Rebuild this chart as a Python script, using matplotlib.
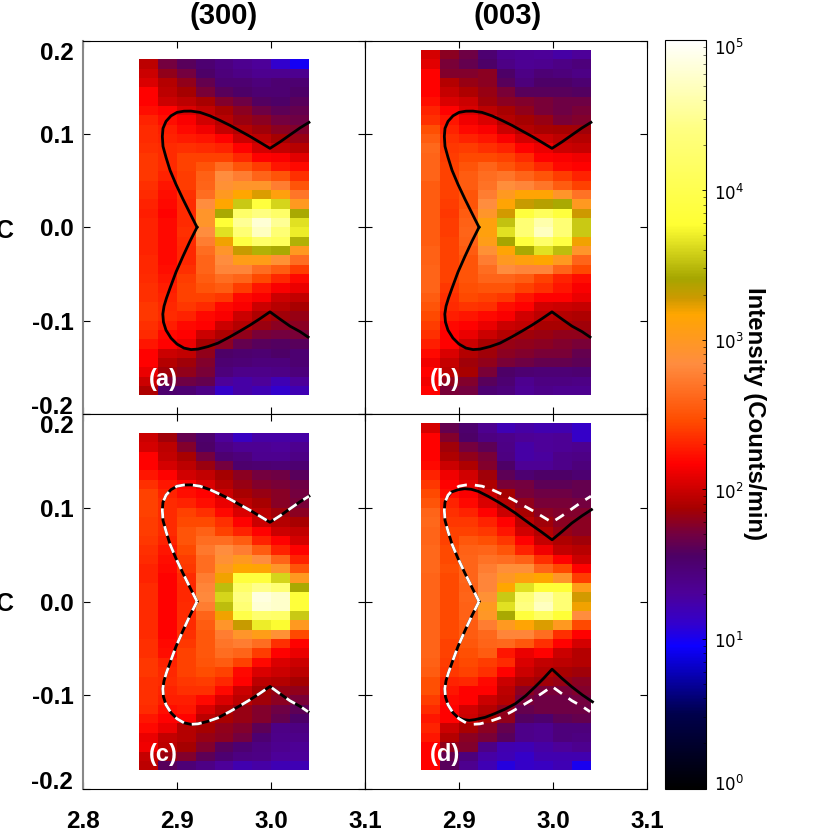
import matplotlib
matplotlib.use("Agg")
import matplotlib.pyplot as plt
import numpy as np
from matplotlib.colors import LinearSegmentedColormap, LogNorm
from matplotlib.transforms import ScaledTranslation

plt.rcParams['font.family'] = ['Liberation Sans', 'DejaVu Sans']

W = 830.0

# log10 of intensity, one row per 0.01 in y, from the top row down
panel_a = [
    [1.95, 1.70, 1.60, 1.50, 1.42, 1.35, 1.30, 1.10, 0.98],
    [2.00, 1.80, 1.70, 1.55, 1.45, 1.40, 1.35, 1.35, 1.35],
    [2.05, 1.92, 1.80, 1.65, 1.50, 1.50, 1.45, 1.50, 1.50],
    [2.17, 1.95, 1.87, 1.72, 1.60, 1.55, 1.50, 1.50, 1.55],
    [2.17, 2.00, 1.95, 1.88, 1.75, 1.68, 1.58, 1.55, 1.60],
    [2.22, 2.17, 2.05, 1.97, 1.88, 1.78, 1.68, 1.62, 1.65],
    [2.30, 2.22, 2.15, 2.02, 1.93, 1.83, 1.78, 1.70, 1.68],
    [2.33, 2.28, 2.20, 2.12, 1.98, 1.92, 1.85, 1.78, 1.75],
    [2.33, 2.30, 2.27, 2.24, 2.17, 2.00, 1.95, 1.87, 1.82],
    [2.35, 2.33, 2.35, 2.33, 2.30, 2.17, 2.03, 1.97, 1.93],
    [2.38, 2.33, 2.42, 2.42, 2.42, 2.32, 2.17, 2.15, 2.08],
    [2.38, 2.33, 2.42, 2.50, 2.65, 2.50, 2.40, 2.25, 2.20],
    [2.38, 2.30, 2.40, 2.58, 2.85, 2.75, 2.60, 2.50, 2.35],
    [2.35, 2.25, 2.40, 2.60, 2.90, 2.95, 2.95, 2.75, 2.50],
    [2.33, 2.22, 2.35, 2.65, 3.00, 3.17, 3.25, 3.10, 2.70],
    [2.30, 2.20, 2.33, 2.85, 3.17, 3.55, 3.85, 3.60, 3.00],
    [2.28, 2.17, 2.33, 2.95, 3.42, 4.20, 4.40, 4.20, 3.42],
    [2.30, 2.20, 2.33, 2.95, 3.80, 4.50, 4.80, 4.50, 3.65],
    [2.30, 2.20, 2.35, 2.85, 3.65, 4.30, 4.70, 4.30, 3.70],
    [2.30, 2.20, 2.33, 2.75, 3.20, 3.90, 4.20, 4.10, 3.45],
    [2.30, 2.20, 2.32, 2.65, 2.95, 3.30, 3.45, 3.42, 3.00],
    [2.32, 2.20, 2.32, 2.60, 2.85, 3.05, 3.05, 2.90, 2.65],
    [2.32, 2.22, 2.35, 2.60, 2.80, 2.80, 2.65, 2.55, 2.40],
    [2.33, 2.25, 2.40, 2.55, 2.65, 2.60, 2.45, 2.32, 2.20],
    [2.35, 2.28, 2.42, 2.50, 2.55, 2.40, 2.25, 2.15, 2.10],
    [2.35, 2.30, 2.42, 2.42, 2.38, 2.20, 2.15, 2.00, 1.97],
    [2.38, 2.32, 2.38, 2.33, 2.20, 2.15, 2.00, 1.93, 1.88],
    [2.38, 2.33, 2.30, 2.20, 2.15, 2.00, 1.90, 1.85, 1.82],
    [2.35, 2.28, 2.20, 2.17, 2.00, 1.92, 1.83, 1.78, 1.78],
    [2.33, 2.20, 2.17, 2.00, 1.90, 1.80, 1.72, 1.70, 1.72],
    [2.25, 2.17, 2.10, 1.87, 1.78, 1.65, 1.60, 1.58, 1.60],
    [2.17, 2.00, 1.97, 1.80, 1.55, 1.52, 1.50, 1.55, 1.50],
    [2.17, 1.92, 1.85, 1.75, 1.50, 1.48, 1.45, 1.45, 1.50],
    [2.10, 1.85, 1.80, 1.72, 1.45, 1.38, 1.38, 1.40, 1.45],
    [2.00, 1.72, 1.68, 1.65, 1.30, 1.25, 1.30, 1.20, 1.30],
    [1.90, 1.52, 1.50, 1.40, 1.12, 1.25, 1.20, 1.10, 1.20],
]

panel_b = [
    [2.03, 1.78, 1.68, 1.50, 1.35, 1.32, 1.30, 1.25, 1.30],
    [2.08, 1.72, 1.65, 1.55, 1.40, 1.33, 1.35, 1.40, 1.45],
    [2.17, 1.75, 1.75, 1.78, 1.55, 1.40, 1.48, 1.45, 1.40],
    [2.17, 1.92, 1.82, 1.78, 1.60, 1.45, 1.55, 1.55, 1.50],
    [2.17, 1.98, 1.90, 1.82, 1.72, 1.60, 1.60, 1.60, 1.58],
    [2.22, 2.05, 2.00, 1.85, 1.78, 1.75, 1.72, 1.68, 1.68],
    [2.30, 2.17, 2.05, 1.95, 1.88, 1.80, 1.72, 1.68, 1.72],
    [2.35, 2.25, 2.12, 2.05, 1.92, 1.87, 1.82, 1.72, 1.75],
    [2.48, 2.30, 2.20, 2.15, 2.00, 1.92, 1.88, 1.87, 1.85],
    [2.55, 2.35, 2.30, 2.25, 2.15, 2.03, 2.00, 1.95, 1.92],
    [2.62, 2.38, 2.40, 2.35, 2.30, 2.17, 2.10, 2.00, 1.98],
    [2.60, 2.40, 2.45, 2.45, 2.42, 2.33, 2.17, 2.15, 2.12],
    [2.60, 2.42, 2.50, 2.60, 2.50, 2.42, 2.32, 2.20, 2.17],
    [2.60, 2.42, 2.55, 2.65, 2.70, 2.60, 2.50, 2.40, 2.30],
    [2.55, 2.42, 2.55, 2.68, 2.87, 2.80, 2.70, 2.55, 2.42],
    [2.55, 2.42, 2.50, 2.75, 3.00, 3.15, 3.15, 2.95, 2.68],
    [2.55, 2.40, 2.50, 2.85, 3.15, 3.30, 3.35, 3.42, 3.00],
    [2.55, 2.38, 2.55, 2.95, 3.27, 3.85, 4.10, 3.85, 3.28],
    [2.55, 2.40, 2.58, 3.10, 3.52, 4.30, 4.60, 4.30, 3.55],
    [2.55, 2.40, 2.60, 3.10, 3.65, 4.30, 4.70, 4.30, 3.55],
    [2.55, 2.42, 2.58, 3.05, 3.40, 3.85, 4.20, 3.90, 3.20],
    [2.58, 2.42, 2.55, 2.90, 3.15, 3.42, 3.65, 3.50, 2.95],
    [2.58, 2.42, 2.50, 2.75, 3.00, 3.10, 3.17, 3.00, 2.60],
    [2.60, 2.42, 2.50, 2.65, 2.85, 2.80, 2.80, 2.60, 2.45],
    [2.60, 2.42, 2.50, 2.60, 2.60, 2.55, 2.42, 2.30, 2.22],
    [2.60, 2.38, 2.48, 2.50, 2.50, 2.42, 2.35, 2.25, 2.15],
    [2.55, 2.35, 2.45, 2.42, 2.38, 2.25, 2.17, 2.17, 2.10],
    [2.50, 2.33, 2.37, 2.35, 2.22, 2.17, 2.02, 2.00, 1.98],
    [2.45, 2.28, 2.25, 2.20, 2.15, 2.02, 1.95, 1.92, 1.90],
    [2.40, 2.20, 2.17, 2.10, 2.00, 1.97, 1.88, 1.88, 1.85],
    [2.35, 2.17, 2.10, 2.00, 1.92, 1.85, 1.83, 1.80, 1.80],
    [2.28, 2.17, 2.00, 1.88, 1.82, 1.80, 1.78, 1.75, 1.72],
    [2.20, 2.05, 1.92, 1.85, 1.78, 1.75, 1.72, 1.72, 1.65],
    [2.12, 1.98, 1.85, 1.80, 1.72, 1.68, 1.65, 1.65, 1.62],
    [2.17, 1.95, 1.88, 1.72, 1.55, 1.50, 1.48, 1.48, 1.50],
    [2.12, 1.80, 1.75, 1.60, 1.50, 1.35, 1.42, 1.42, 1.40],
    [2.17, 1.72, 1.70, 1.50, 1.45, 1.32, 1.38, 1.35, 1.35],
]

panel_c = [
    [2.00, 1.85, 1.65, 1.52, 1.30, 1.15, 1.25, 1.25, 1.25],
    [2.03, 1.95, 1.75, 1.55, 1.40, 1.33, 1.33, 1.30, 1.35],
    [2.17, 1.97, 1.88, 1.70, 1.50, 1.45, 1.35, 1.35, 1.40],
    [2.17, 2.03, 1.95, 1.83, 1.70, 1.52, 1.50, 1.48, 1.50],
    [2.25, 2.17, 2.02, 1.97, 1.87, 1.78, 1.70, 1.68, 1.60],
    [2.35, 2.25, 2.17, 2.05, 1.92, 1.82, 1.75, 1.72, 1.68],
    [2.42, 2.30, 2.22, 2.17, 2.00, 1.88, 1.82, 1.77, 1.70],
    [2.42, 2.33, 2.30, 2.22, 2.10, 1.95, 1.88, 1.77, 1.72],
    [2.42, 2.33, 2.42, 2.35, 2.20, 2.05, 1.95, 1.85, 1.78],
    [2.40, 2.33, 2.45, 2.45, 2.35, 2.17, 2.00, 1.92, 1.88],
    [2.40, 2.33, 2.50, 2.58, 2.42, 2.30, 2.17, 2.00, 1.97],
    [2.38, 2.30, 2.50, 2.65, 2.65, 2.55, 2.30, 2.17, 2.03],
    [2.35, 2.25, 2.45, 2.72, 2.85, 2.75, 2.55, 2.30, 2.17],
    [2.33, 2.22, 2.40, 2.65, 2.90, 3.00, 2.85, 2.60, 2.30],
    [2.30, 2.20, 2.38, 2.65, 3.00, 3.17, 3.15, 2.95, 2.50],
    [2.30, 2.17, 2.33, 2.75, 3.20, 3.85, 3.85, 3.60, 3.00],
    [2.33, 2.17, 2.32, 2.80, 3.50, 4.20, 4.45, 4.30, 3.42],
    [2.33, 2.17, 2.32, 2.82, 3.60, 4.40, 4.85, 4.75, 3.82],
    [2.33, 2.17, 2.33, 2.75, 3.50, 4.30, 4.80, 4.75, 3.82],
    [2.33, 2.17, 2.33, 2.60, 3.20, 3.95, 4.25, 4.20, 3.55],
    [2.33, 2.17, 2.33, 2.55, 2.95, 3.30, 3.70, 3.75, 3.00],
    [2.33, 2.17, 2.35, 2.52, 2.75, 2.95, 3.05, 2.90, 2.45],
    [2.35, 2.20, 2.38, 2.52, 2.70, 2.75, 2.65, 2.35, 2.17],
    [2.35, 2.22, 2.42, 2.52, 2.65, 2.60, 2.40, 2.17, 2.10],
    [2.38, 2.30, 2.42, 2.50, 2.55, 2.42, 2.20, 2.05, 2.00],
    [2.38, 2.32, 2.42, 2.47, 2.42, 2.20, 2.05, 2.00, 1.95],
    [2.35, 2.33, 2.38, 2.40, 2.32, 2.17, 1.95, 1.92, 1.87],
    [2.35, 2.30, 2.35, 2.35, 2.20, 2.00, 1.87, 1.82, 1.80],
    [2.35, 2.28, 2.28, 2.20, 2.05, 1.95, 1.85, 1.78, 1.72],
    [2.33, 2.22, 2.25, 2.05, 1.92, 1.82, 1.75, 1.68, 1.62],
    [2.25, 2.17, 2.17, 1.95, 1.88, 1.82, 1.75, 1.65, 1.55],
    [2.20, 2.10, 1.92, 1.87, 1.80, 1.75, 1.62, 1.40, 1.42],
    [2.10, 1.97, 1.92, 1.82, 1.78, 1.70, 1.50, 1.38, 1.38],
    [2.12, 1.95, 1.87, 1.75, 1.60, 1.50, 1.42, 1.35, 1.32],
    [1.98, 1.83, 1.75, 1.62, 1.50, 1.42, 1.40, 1.30, 1.30],
    [1.95, 1.60, 1.48, 1.40, 1.30, 1.22, 1.25, 1.20, 1.20],
]

panel_d = [
    [2.03, 1.65, 1.52, 1.35, 1.20, 1.25, 1.22, 1.22, 1.12],
    [2.17, 1.75, 1.55, 1.42, 1.38, 1.32, 1.30, 1.32, 1.12],
    [2.17, 1.85, 1.70, 1.62, 1.40, 1.25, 1.30, 1.32, 1.35],
    [2.17, 1.90, 1.80, 1.72, 1.42, 1.25, 1.28, 1.38, 1.40],
    [2.20, 2.00, 1.90, 1.75, 1.55, 1.32, 1.32, 1.38, 1.45],
    [2.30, 2.12, 2.02, 1.85, 1.62, 1.50, 1.55, 1.55, 1.50],
    [2.38, 2.17, 2.08, 1.90, 1.72, 1.70, 1.62, 1.62, 1.65],
    [2.45, 2.22, 2.15, 2.00, 1.87, 1.72, 1.68, 1.68, 1.65],
    [2.50, 2.30, 2.20, 2.05, 1.92, 1.80, 1.72, 1.72, 1.70],
    [2.60, 2.35, 2.30, 2.17, 2.00, 1.88, 1.78, 1.75, 1.75],
    [2.62, 2.38, 2.38, 2.30, 2.17, 1.95, 1.85, 1.78, 1.78],
    [2.60, 2.42, 2.42, 2.38, 2.25, 2.02, 1.92, 1.82, 1.78],
    [2.60, 2.42, 2.52, 2.48, 2.38, 2.17, 1.98, 1.90, 1.85],
    [2.62, 2.45, 2.58, 2.60, 2.50, 2.30, 2.12, 1.97, 1.93],
    [2.62, 2.45, 2.60, 2.68, 2.65, 2.58, 2.35, 2.17, 2.00],
    [2.62, 2.48, 2.60, 2.75, 2.88, 2.88, 2.60, 2.45, 2.17],
    [2.60, 2.45, 2.60, 2.80, 2.98, 3.10, 3.17, 2.95, 2.40],
    [2.60, 2.45, 2.58, 2.80, 3.17, 3.65, 3.80, 3.80, 3.05],
    [2.60, 2.45, 2.60, 2.90, 3.55, 4.30, 4.60, 4.30, 3.27],
    [2.60, 2.45, 2.58, 3.00, 3.65, 4.40, 4.70, 4.30, 3.20],
    [2.60, 2.45, 2.58, 2.97, 3.42, 3.85, 4.15, 3.80, 2.85],
    [2.60, 2.45, 2.55, 2.75, 3.00, 3.15, 3.25, 3.00, 2.45],
    [2.60, 2.45, 2.55, 2.62, 2.80, 2.80, 2.65, 2.35, 2.17],
    [2.60, 2.42, 2.52, 2.60, 2.62, 2.52, 2.35, 2.17, 2.03],
    [2.60, 2.42, 2.48, 2.55, 2.25, 2.10, 2.17, 2.00, 1.92],
    [2.58, 2.40, 2.45, 2.40, 2.33, 2.05, 1.97, 1.95, 1.92],
    [2.55, 2.38, 2.42, 2.35, 2.17, 2.00, 1.92, 1.88, 1.85],
    [2.48, 2.30, 2.32, 2.20, 2.00, 1.90, 1.85, 1.82, 1.78],
    [2.48, 2.25, 2.17, 2.17, 1.95, 1.78, 1.72, 1.72, 1.75],
    [2.40, 2.20, 2.17, 2.00, 1.92, 1.72, 1.68, 1.68, 1.70],
    [2.33, 2.17, 2.02, 1.92, 1.80, 1.65, 1.68, 1.68, 1.68],
    [2.25, 2.17, 2.00, 1.88, 1.80, 1.58, 1.52, 1.62, 1.65],
    [2.30, 2.00, 1.88, 1.78, 1.65, 1.38, 1.35, 1.45, 1.45],
    [2.25, 1.92, 1.78, 1.72, 1.60, 1.38, 1.35, 1.45, 1.42],
    [2.17, 1.80, 1.75, 1.40, 1.22, 1.20, 1.25, 1.30, 1.35],
    [2.17, 1.65, 1.45, 1.25, 1.20, 1.12, 1.22, 1.22, 1.22],
    [2.17, 1.60, 1.35, 1.20, 1.05, 1.12, 1.15, 1.20, 1.00],
]

x_edges = [2.86, 2.88, 2.90, 2.92, 2.94, 2.96, 2.98, 3.00, 3.02, 3.04]
y_top_short = 0.18   # a and c
y_top_tall = 0.19    # b and d
y_bottom = -0.18

# the outer butterfly contour
outer_x = [2.9213, 2.9138, 2.9064, 2.8989, 2.8926, 2.8883, 2.8851, 2.8844, 2.8851, 2.8883, 2.8936, 2.9000, 2.9074,
           2.9149, 2.9245, 2.9351, 2.9457, 2.9564, 2.9670, 2.9777, 2.9883, 2.9989, 3.0096, 3.0202, 3.0309, 3.0404]
outer_y = [0.0000, 0.0150, 0.0300, 0.0460, 0.0610, 0.0749, 0.0866, 0.0973, 0.1059, 0.1134, 0.1193, 0.1230, 0.1243,
           0.1244, 0.1230, 0.1193, 0.1144, 0.1091, 0.1032, 0.0973, 0.0909, 0.0845, 0.0914, 0.0989, 0.1064, 0.1123]
outer_low_x = [2.9213, 2.9138, 2.9064, 2.8989, 2.8926, 2.8888, 2.8862, 2.8849, 2.8856, 2.8883, 2.8936, 2.9000,
               2.9074, 2.9149, 2.9223, 2.9330, 2.9436, 2.9564, 2.9670, 2.9777, 2.9883, 2.9989, 3.0096, 3.0202,
               3.0309, 3.0394]
outer_low_y = [0.0000, -0.0150, -0.0310, -0.0481, -0.0652, -0.0759, -0.0845, -0.0930, -0.1016, -0.1102, -0.1187,
               -0.1251, -0.1294, -0.1310, -0.1305, -0.1278, -0.1241, -0.1173, -0.1112, -0.1048, -0.0979, -0.0906,
               -0.0984, -0.1059, -0.1118, -0.1176]

# inner contour of panel d, same as the outer one on the left side
inner_x = [2.9213, 2.9138, 2.9064, 2.8989, 2.8926, 2.8883, 2.8851, 2.8844, 2.8851, 2.8875, 2.8920, 2.8990, 2.9060,
           2.9130, 2.9205, 2.9310, 2.9420, 2.9510, 2.9600, 2.9685, 2.9770, 2.9880, 2.9990, 3.0095, 3.0200, 3.0310,
           3.0410]
inner_y = [0.0000, 0.0150, 0.0300, 0.0460, 0.0610, 0.0749, 0.0866, 0.0973, 0.1059, 0.1115, 0.1168, 0.1192, 0.1203,
           0.1197, 0.1175, 0.1122, 0.1060, 0.1003, 0.0943, 0.0880, 0.0818, 0.0740, 0.0658, 0.0745, 0.0836, 0.0915,
           0.0980]
inner_low_x = [2.9213, 2.9138, 2.9064, 2.8989, 2.8926, 2.8888, 2.8862, 2.8849, 2.8856, 2.8883, 2.8936, 2.8990,
               2.9046, 2.9110, 2.9170, 2.9280, 2.9380, 2.9490, 2.9600, 2.9710, 2.9810, 2.9900, 2.9990, 3.0095,
               3.0200, 3.0310, 3.0420]
inner_low_y = [0.0000, -0.0150, -0.0310, -0.0481, -0.0652, -0.0759, -0.0845, -0.0930, -0.1016, -0.1102, -0.1187,
               -0.1238, -0.1260, -0.1268, -0.1260, -0.1235, -0.1196, -0.1148, -0.1090, -0.1005, -0.0910, -0.0820,
               -0.0722, -0.0820, -0.0910, -0.0995, -0.1070]

x_ticks = [2.8, 2.9, 3.0, 3.1]
y_ticks = [-0.2, -0.1, 0.0, 0.1, 0.2]
y_tick_labels = ["-0.2", "-0.1", "0.0", "0.1", "0.2"]
cbar_ticks = [1, 10, 100, 1000, 10000, 100000]

cmap_stops = [
    (0.00, (0.00, 0.00, 0.00)), (0.50, (0.00, 0.00, 0.30)), (0.95, (0.05, 0.00, 1.00)),
    (1.10, (0.20, 0.00, 0.80)), (1.30, (0.30, 0.00, 0.60)), (1.55, (0.30, 0.00, 0.40)),
    (1.70, (0.45, 0.00, 0.25)), (1.87, (0.65, 0.00, 0.00)), (2.00, (0.80, 0.00, 0.00)),
    (2.17, (1.00, 0.00, 0.00)), (2.46, (1.00, 0.30, 0.00)), (2.84, (1.00, 0.55, 0.25)),
    (3.17, (1.00, 0.65, 0.00)), (3.28, (0.80, 0.60, 0.00)), (3.41, (0.65, 0.65, 0.00)),
    (3.77, (1.00, 1.00, 0.20)), (4.40, (1.00, 1.00, 0.50)), (4.97, (1.00, 1.00, 0.97)),
    (5.00, (1.00, 1.00, 1.00)),
]
cmap = LinearSegmentedColormap.from_list("counts", [(v / 5.0, c) for v, c in cmap_stops], N=512)
norm = LogNorm(vmin=1, vmax=1e5)


def pxAxes(fig, left, top, right, bottom):
    return fig.add_axes([left / W, 1 - bottom / W, (right - left) / W, (bottom - top) / W])


def nudge(label, fig, px_down):
    label.set_transform(label.get_transform() + ScaledTranslation(0, -px_down / 100.0, fig.dpi_scale_trans))


def drawPanel(fig, box, values, y_top, tag, show_y, show_x):
    ax = pxAxes(fig, *box)
    y_edges = np.linspace(y_top, y_bottom, len(values) + 1)
    mesh = ax.pcolormesh(x_edges, y_edges, 10.0 ** np.array(values), cmap=cmap, norm=norm,
                         antialiased=True, linewidth=0)
    ax.set_xlim(2.8, 3.1)
    ax.set_ylim(-0.2, 0.2)
    ax.set_xticks(x_ticks)
    ax.set_yticks(y_ticks)
    ax.tick_params(direction='in', top=True, right=True, length=5, width=0.8,
                   labelsize=17.5, pad=7)
    ax.tick_params(axis='x', pad=15)
    if show_y:
        ax.set_yticklabels(y_tick_labels, fontweight='bold')
        labs = ax.get_yticklabels()
        nudge(labs[0], fig, -9)
        nudge(labs[-1], fig, 10)
    else:
        ax.set_yticklabels([])
    if show_x:
        ax.set_xticklabels([("%.1f" % t if (show_y or t > 2.85) else "") for t in x_ticks], fontweight='bold')
    else:
        ax.set_xticklabels([])
    for s in ax.spines.values():
        s.set_linewidth(0.8)
    if show_y:
        ax.spines['left'].set_color('#888888')
        ax.spines['left'].set_linewidth(1.5)
    ax.text(0.284, 0.092, tag, transform=ax.transAxes, color='white', fontsize=17, fontweight='bold',
            ha='center', va='center', zorder=5)
    return ax, mesh


def contour(ax, xs, ys, **kw):
    ax.plot(xs, ys, clip_on=False, solid_joinstyle='round', zorder=3, **kw)


fig = plt.figure(figsize=(8.3, 8.3), dpi=100)

ax_a, mesh = drawPanel(fig, (83, 40.5, 365, 414), panel_a, y_top_short, "(a)", True, False)
ax_b, _ = drawPanel(fig, (365, 40.5, 647, 414), panel_b, y_top_tall, "(b)", False, False)
ax_c, _ = drawPanel(fig, (83, 414, 365, 789), panel_c, y_top_short, "(c)", True, True)
ax_d, _ = drawPanel(fig, (365, 414, 647, 789), panel_d, y_top_tall, "(d)", False, True)

black = dict(color='black', linewidth=2.0)
white = dict(color='white', linewidth=2.0, linestyle=(0, (3.6, 2.9)))
for ax in (ax_a, ax_b, ax_c):
    contour(ax, outer_x, outer_y, **black)
    contour(ax, outer_low_x, outer_low_y, **black)
contour(ax_c, outer_x, outer_y, **white)
contour(ax_c, outer_low_x, outer_low_y, **white)
contour(ax_d, inner_x, inner_y, **black)
contour(ax_d, inner_low_x, inner_low_y, **black)
contour(ax_d, outer_x, outer_y, **white)
contour(ax_d, outer_low_x, outer_low_y, **white)

fig.text(224 / W, 1 - 16 / W, "(300)", fontsize=21, fontweight='bold', ha='center', va='center')
fig.text(508 / W, 1 - 16 / W, "(003)", fontsize=21, fontweight='bold', ha='center', va='center')

# the y axis titles are cut off by the figure edge, only the last letter shows
fig.text(14 / W, 1 - 231 / W, "C", fontsize=18, fontweight='bold', ha='right', va='center')
fig.text(14 / W, 1 - 604 / W, "C", fontsize=18, fontweight='bold', ha='right', va='center')

cax = pxAxes(fig, 665, 40.5, 706, 788.5)
cb = fig.colorbar(mesh, cax=cax)
cb.set_ticks(cbar_ticks)
cax.tick_params(which='major', direction='in', length=3, width=0.6, labelsize=12, pad=6,
                labelfontfamily='DejaVu Sans')
cax.tick_params(which='minor', direction='in', length=2, width=0.4)
cb.outline.set_linewidth(0.8)
cbar_labels = cax.get_yticklabels()
for lab, shift in zip(cbar_labels, [-6, 1.5, 1.5, 1.5, 1.5, 6]):
    nudge(lab, fig, shift)
fig.text(754 / W, 1 - 414 / W, "Intensity (Counts/min)", fontsize=17.3, fontweight='bold', rotation=270,
         ha='center', va='center')

fig.savefig("out.png", dpi=100)
